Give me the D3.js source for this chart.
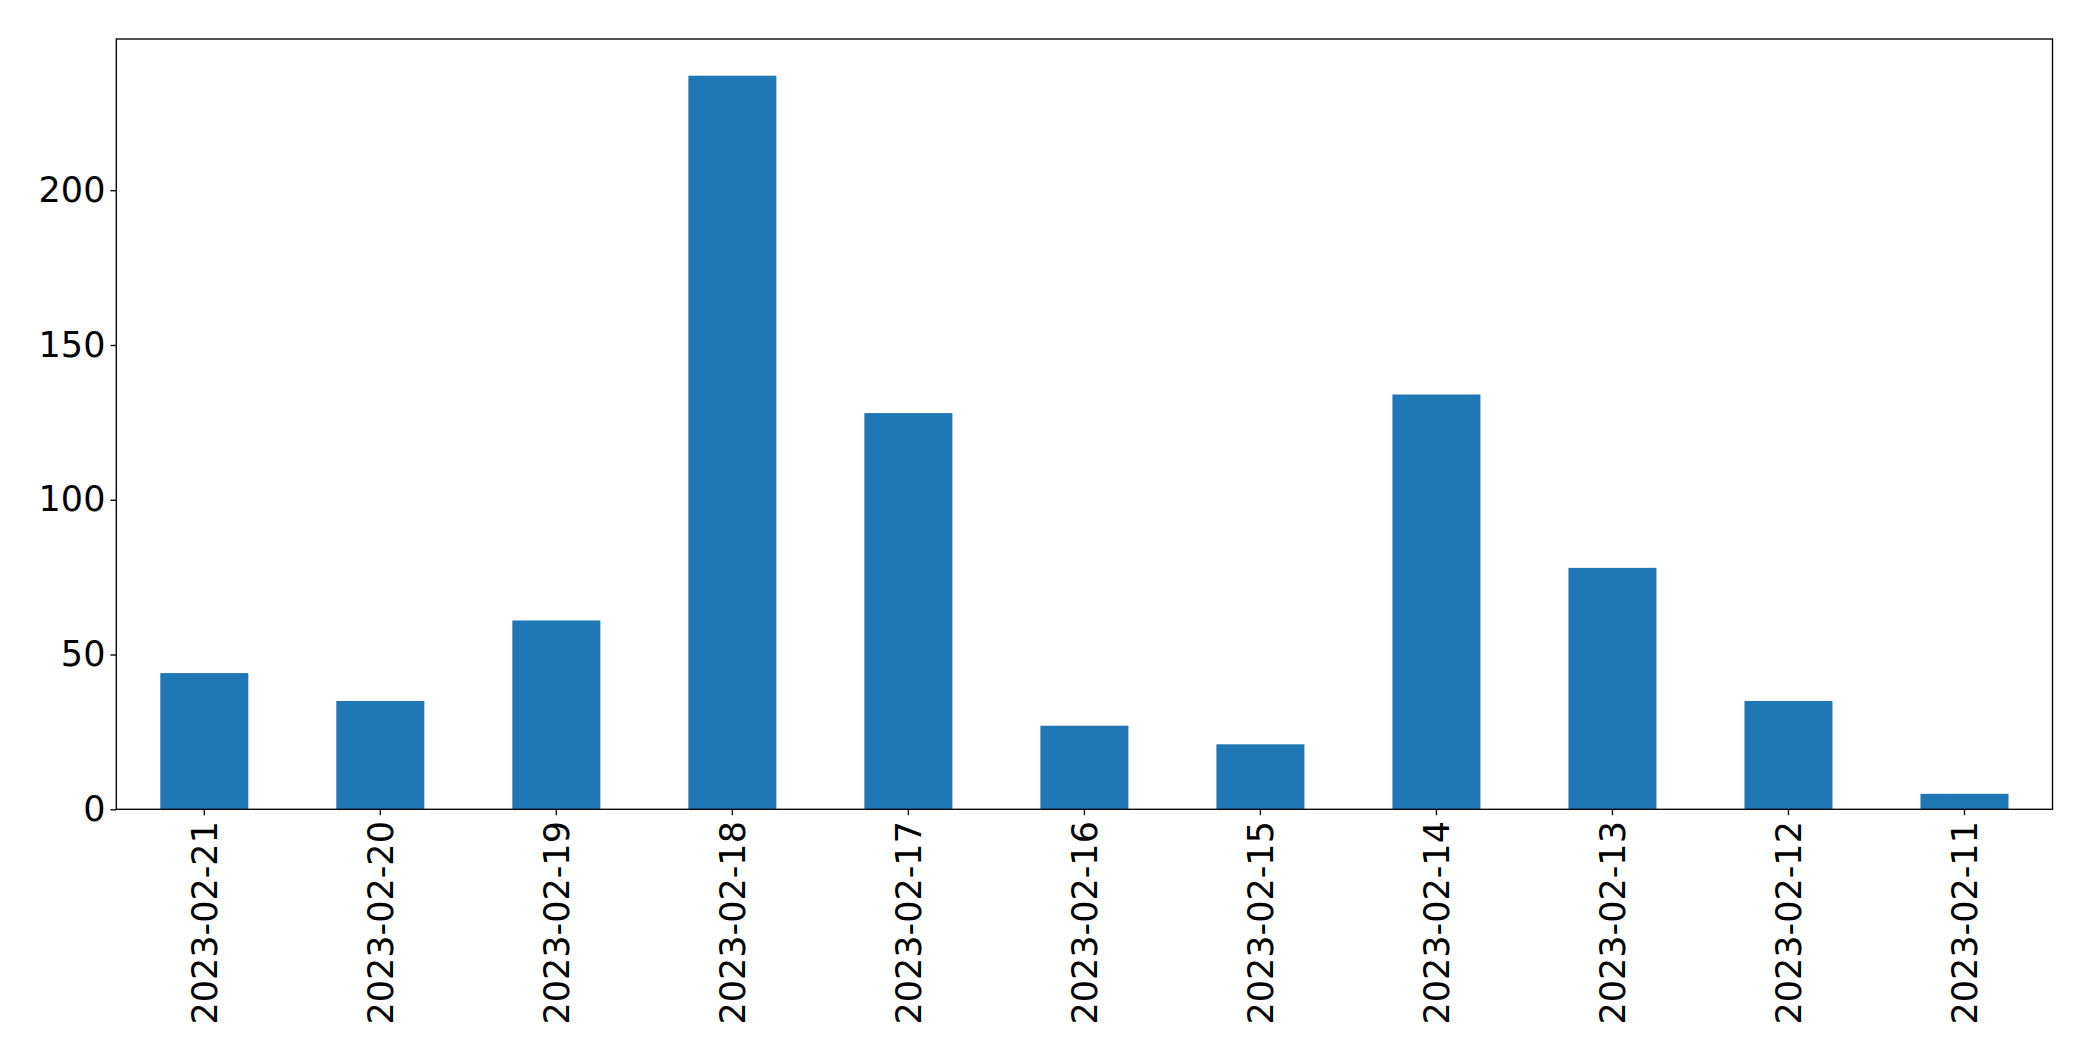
<!DOCTYPE html>
<html>
<head>
<meta charset="utf-8">
<script src="https://cdn.jsdelivr.net/npm/d3@7"></script>
<style>
  body { margin: 0; background: #fff; }
  svg { display: block; }
</style>
</head>
<body>
<svg id="chart" width="2093" height="1061"></svg>
<script>
const categories = ["2023-02-21","2023-02-20","2023-02-19","2023-02-18","2023-02-17","2023-02-16","2023-02-15","2023-02-14","2023-02-13","2023-02-12","2023-02-11"];
const values = [44, 35, 61, 237, 128, 27, 21, 134, 78, 35, 5];
const yTicks = [0, 50, 100, 150, 200];

const W = 2093, H = 1061;
const margin = { left: 116.3, top: 39, right: W - 2052.5, bottom: H - 809.3 };
const fontSize = 35;
const tickLen = 5.9, tickPad = 5;

const svg = d3.select("#chart");
const innerW = W - margin.left - margin.right;
const innerH = H - margin.top - margin.bottom;

const x = d3.scaleBand().domain(categories).range([margin.left, margin.left + innerW]).paddingInner(0.5).paddingOuter(0.25);
const y = d3.scaleLinear().domain([0, d3.max(values) * 1.05]).range([margin.top + innerH, margin.top]);

svg.append("g").selectAll("rect").data(values).join("rect")
  .attr("x", (d, i) => x(categories[i]))
  .attr("width", x.bandwidth())
  .attr("y", d => y(d))
  .attr("height", d => y(0) - y(d))
  .attr("fill", "#1f77b4");

const yAxis = svg.append("g")
  .attr("transform", `translate(${margin.left},0)`)
  .call(d3.axisLeft(y).tickValues(yTicks).tickSize(tickLen).tickPadding(tickPad).tickFormat(d3.format("d")));
yAxis.select(".domain").remove();
yAxis.selectAll("line").attr("stroke", "#000").attr("stroke-width", 1.35);
yAxis.selectAll("text").attr("font-family", "DejaVu Sans").attr("font-size", fontSize).attr("fill", "#000");

const xAxis = svg.append("g")
  .attr("transform", `translate(0,${margin.top + innerH})`)
  .call(d3.axisBottom(x).tickSize(tickLen).tickPadding(tickPad));
xAxis.select(".domain").remove();
xAxis.selectAll("line").attr("stroke", "#000").attr("stroke-width", 1.35);
xAxis.selectAll("text")
  .attr("font-family", "DejaVu Sans").attr("font-size", fontSize).attr("fill", "#000")
  .attr("text-anchor", "end")
  .attr("dy", "0.35em")
  .attr("y", 0)
  .attr("transform", `translate(0,${tickLen + 5.9}) rotate(-90)`);

svg.append("rect")
  .attr("x", margin.left).attr("y", margin.top)
  .attr("width", innerW).attr("height", innerH)
  .attr("fill", "none").attr("stroke", "#000").attr("stroke-width", 1.35);
</script>
</body>
</html>
